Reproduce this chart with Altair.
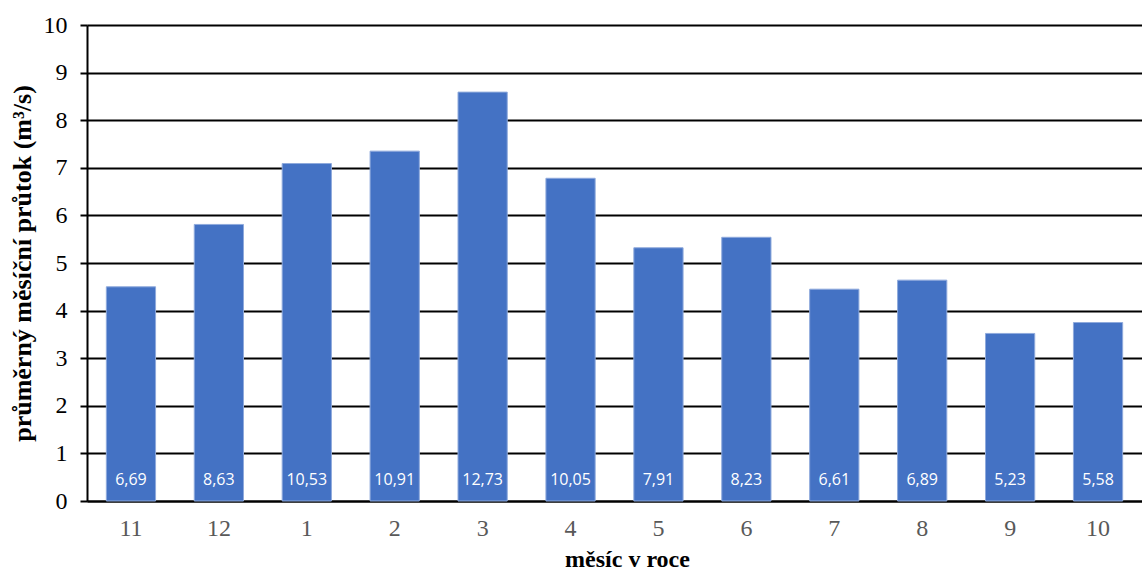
import altair as alt
import pandas as pd

# Month order of the hydrological year (Nov - Oct)
months = ["11", "12", "1", "2", "3", "4", "5", "6", "7", "8", "9", "10"]
# Mean monthly discharge (m3/s), bar heights
flow = [4.50, 5.81, 7.09, 7.35, 8.59, 6.78, 5.32, 5.54, 4.45, 4.64, 3.52, 3.75]
# Values printed inside the bars
bar_labels = [6.69, 8.63, 10.53, 10.91, 12.73, 10.05, 7.91, 8.23, 6.61, 6.89, 5.23, 5.58]

df = pd.DataFrame({"mesic": months, "prutok": flow, "popisek": bar_labels})

serif = "Liberation Serif"

x_enc = alt.X(
    "mesic:N",
    sort=months,
    scale=alt.Scale(paddingInner=0.44, paddingOuter=0.22),
    axis=alt.Axis(
        title="měsíc v roce",
        titleFont=serif,
        titleFontSize=24,
        titleFontWeight="bold",
        titleColor="black",
        titleX=540,
        titleY=65,
        titleBaseline="alphabetic",
        labelFont=serif,
        labelFontSize=24,
        labelColor="#595959",
        labelAngle=0,
        labelPadding=15,
        ticks=False,
        domainColor="black",
        domainWidth=2,
    ),
)

bars = alt.Chart(df).mark_bar(
    color="#4472C4", stroke="#8FAADC", strokeWidth=1
).encode(
    x=x_enc,
    y=alt.Y(
        "prutok:Q",
        scale=alt.Scale(domain=[0, 10], nice=False),
        axis=alt.Axis(
            title="průměrný měsíční průtok (m³/s)",
            titleFont=serif,
            titleFontSize=26,
            titleFontWeight="bold",
            titleColor="black",
            titleX=-65,
            titleBaseline="middle",
            values=list(range(0, 11)),
            labelFont=serif,
            labelFontSize=24,
            labelColor="black",
            labelPadding=13,
            tickColor="black",
            tickWidth=2,
            tickSize=7,
            domainColor="black",
            domainWidth=2,
            grid=True,
            gridColor="black",
            gridWidth=2,
        ),
    ),
)

texts = alt.Chart(df).transform_calculate(
    txt="replace(format(datum.popisek, '.2f'), '.', ',')"
).mark_text(
    color="white", font="Open Sans", fontSize=16, baseline="middle", dy=-21
).encode(
    x=alt.X("mesic:N", sort=months),
    y=alt.datum(0),
    text="txt:N",
)

chart = (
    alt.layer(bars, texts)
    .properties(
        width=1055,
        height=476,
        autosize=alt.AutoSizeParams(type="none"),
        padding={"left": 87, "top": 25, "right": 0, "bottom": 70},
    )
    .configure_view(stroke=None)
    .configure(background="white")
)

chart.save("out.html", embed_options={"renderer": "svg", "actions": False})
